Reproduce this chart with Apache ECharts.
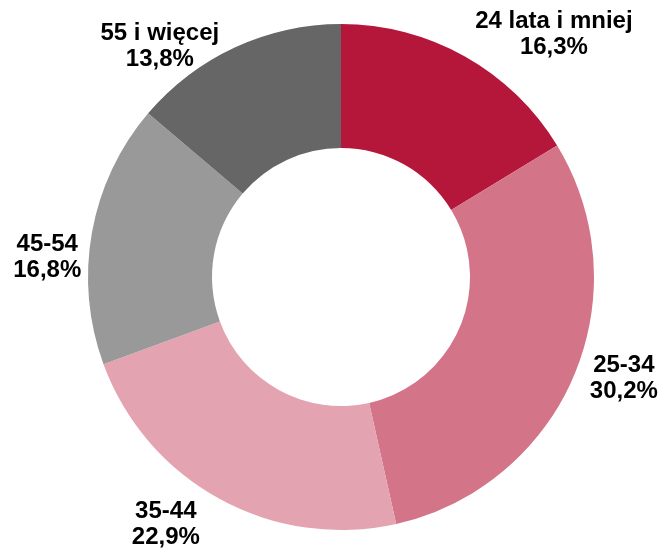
<!DOCTYPE html>
<html>
<head>
<meta charset="utf-8">
<script src="https://cdn.jsdelivr.net/npm/echarts@6/dist/echarts.min.js"></script>
<style>
  html, body { margin: 0; padding: 0; background: #fff; }
  #chart { width: 662px; height: 551px; }
</style>
</head>
<body>
<div id="chart"></div>
<script>
// grupy wiekowe i udziały (%)
const categories = ['24 lata i mniej', '25-34', '35-44', '45-54', '55 i więcej']
const shares = [16.3, 30.2, 22.9, 16.8, 13.8]
const colors = ['#B5173A', '#D37489', '#E3A3B0', '#999999', '#666666']

// drobne przesunięcia etykiet (jak w oryginale z Excela)
const labelNudge = [[-7, 0], [-12, -7], [-3, 3], [19, 29], [0, 22]]

const myChart = echarts.init(document.getElementById('chart'))

const pieData = categories.map((name, i) => ({
  name: name,
  value: shares[i],
  itemStyle: { color: colors[i] }
}))

myChart.setOption({
  animation: false,
  series: [
    {
      type: 'pie',
      center: [341, 277],
      radius: [129, 253],
      startAngle: 90,
      clockwise: true,
      avoidLabelOverlap: false,
      data: pieData,
      itemStyle: { borderWidth: 0 },
      label: {
        show: true,
        position: 'outside',
        formatter: p => '{a|' + p.name + '}\n{a|' + p.value.toFixed(1).replace('.', ',') + '%}',
        rich: {
          a: {
            fontFamily: 'Liberation Sans, Arial, sans-serif',
            fontWeight: 'bold',
            fontSize: 24,
            lineHeight: 26,
            color: '#000',
            align: 'center'
          }
        }
      },
      labelLine: { show: false, length: 25, length2: 0 },
      labelLayout: p => ({ dx: labelNudge[p.dataIndex][0], dy: labelNudge[p.dataIndex][1] })
    }
  ]
})
</script>
</body>
</html>
